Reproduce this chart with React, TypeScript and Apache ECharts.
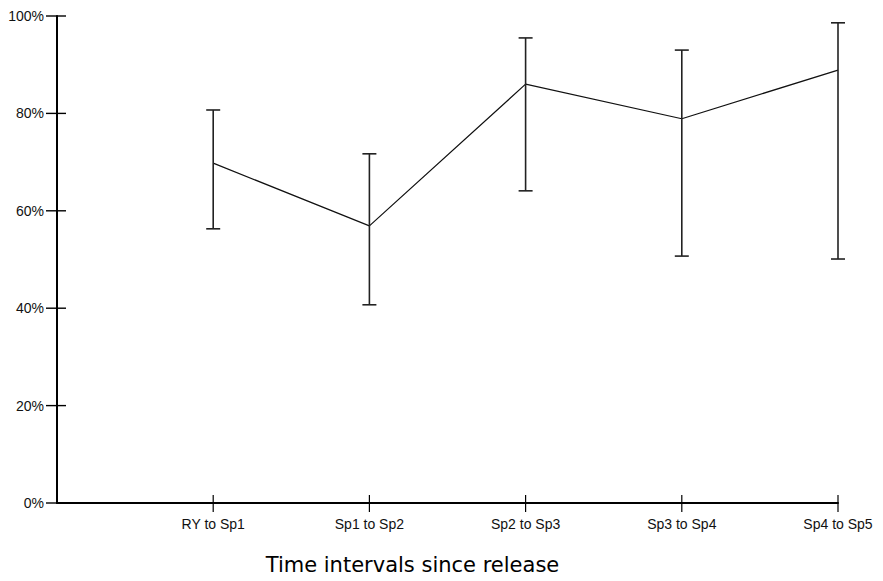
import React, { useEffect, useRef } from "react";
import * as echarts from "echarts";

const categories = ["RY to Sp1", "Sp1 to Sp2", "Sp2 to Sp3", "Sp3 to Sp4", "Sp4 to Sp5"];
const meanValues = [69.8, 56.9, 86.0, 78.9, 88.9];
const lowerValues = [56.3, 40.7, 64.1, 50.7, 50.1];
const upperValues = [80.7, 71.7, 95.5, 93.0, 98.6];
const yTicks = [0, 20, 40, 60, 80, 100];
const xTitle = "Time intervals since release";

// axis categories: a leading empty slot so the first interval sits one step from the y axis
const axisCats = ["", ...categories];

export default function App() {
  const ref = useRef<HTMLDivElement>(null);
  useEffect(() => {
    if (!ref.current) return;
    const chart = echarts.init(ref.current, null, { renderer: "svg" });
    const lineData = meanValues.map((v, i) => [i + 1, v]);
    const errData = categories.map((_, i) => [i + 1, lowerValues[i], upperValues[i]]);
    const xTickData = categories.map((_, i) => [i + 1, 0]);
    const yTickData = yTicks.map((v) => [0, v]);
    const font = "'Liberation Sans', Arial, sans-serif";
    chart.setOption({
      animation: false,
      backgroundColor: "#ffffff",
      grid: { left: 57, top: 16, width: 781, height: 487, containLabel: false },
      xAxis: {
        type: "category",
        data: axisCats,
        boundaryGap: false,
        axisLine: { lineStyle: { color: "#000", width: 2 } },
        axisTick: { show: false },
        axisLabel: {
          interval: 0,
          margin: 14,
          color: "#111",
          fontFamily: font,
          fontSize: 14,
        },
        splitLine: { show: false },
        name: xTitle,
        nameLocation: "middle",
        nameGap: 51,
        nameTextStyle: {
          color: "#000",
          fontFamily: "'DejaVu Sans', sans-serif",
          fontSize: 21,
          padding: [0, 70, 0, 0],
        },
      },
      yAxis: {
        type: "value",
        min: 0,
        max: 100,
        interval: 20,
        axisLine: { show: true, lineStyle: { color: "#000", width: 2 } },
        axisTick: { show: false },
        axisLabel: {
          margin: 13,
          color: "#111",
          fontFamily: font,
          fontSize: 14,
          formatter: "{value}%",
        },
        splitLine: { show: false },
      },
      series: [
        {
          type: "line",
          data: lineData,
          symbol: "none",
          lineStyle: { color: "#111", width: 1.2 },
          z: 3,
        },
        {
          type: "custom",
          data: errData,
          z: 4,
          renderItem: (params: any, api: any) => {
            const x = api.value(0);
            const lo = api.coord([x, api.value(1)]);
            const hi = api.coord([x, api.value(2)]);
            const hw = 7;
            const style = { stroke: "#222", lineWidth: 1.6 };
            return {
              type: "group",
              children: [
                { type: "line", shape: { x1: lo[0], y1: lo[1], x2: hi[0], y2: hi[1] }, style },
                { type: "line", shape: { x1: lo[0] - hw, y1: lo[1], x2: lo[0] + hw, y2: lo[1] }, style },
                { type: "line", shape: { x1: hi[0] - hw, y1: hi[1], x2: hi[0] + hw, y2: hi[1] }, style },
              ],
            };
          },
        },
        {
          type: "custom",
          data: xTickData,
          z: 5,
          renderItem: (params: any, api: any) => {
            const p = api.coord([api.value(0), 0]);
            return {
              type: "line",
              shape: { x1: p[0], y1: p[1] - 8, x2: p[0], y2: p[1] + 9 },
              style: { stroke: "#000", lineWidth: 1.2 },
            };
          },
        },
        {
          type: "custom",
          data: yTickData,
          z: 5,
          renderItem: (params: any, api: any) => {
            const p = api.coord([0, api.value(1)]);
            return {
              type: "line",
              shape: { x1: p[0] - 11, y1: p[1], x2: p[0] + 9, y2: p[1] },
              style: { stroke: "#000", lineWidth: 1.4 },
            };
          },
        },
      ],
    });
    return () => chart.dispose();
  }, []);
  return <div ref={ref} style={{ width: 883, height: 581, position: "absolute", left: 0, top: 0 }} />;
}
